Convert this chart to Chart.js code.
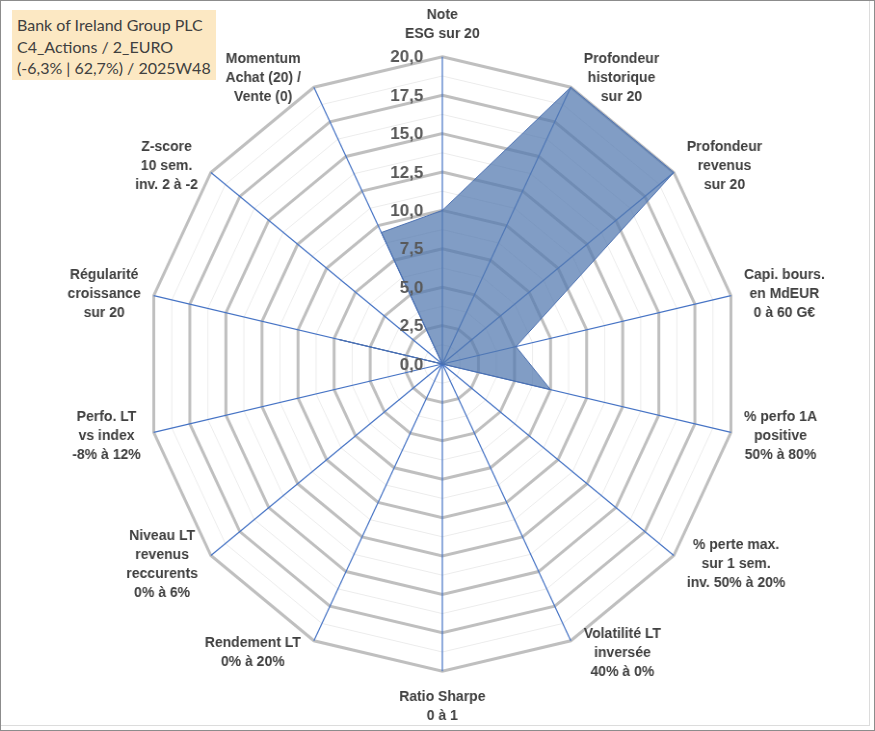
<!DOCTYPE html>
<html>
<head>
<meta charset="utf-8">
<title>Bank of Ireland Group PLC</title>
<script src="https://cdn.jsdelivr.net/npm/chart.js@4.4.1/dist/chart.umd.min.js"></script>
<style>
  html, body { margin: 0; padding: 0; background: #fff; }
  #frame { position: relative; width: 873px; height: 729px; border: 1px solid #8c8c8c; overflow: hidden; }
  #inner { position: absolute; left: 0; top: 0; width: 868px; height: 724px;
           border-right: 1px solid #dcdcdc; border-bottom: 1px solid #dcdcdc; }
  /* the original plot is a little narrower than tall: squeeze it horizontally */
  #chart { position: absolute; left: 0; top: 0; width: 906px; height: 729px;
           transform: scaleX(0.9636); transform-origin: 0 0; }
  #title { position: absolute; left: 11px; top: 9px; width: 194px; height: 62px;
           padding: 4px 5px; background: #fce8c3; color: #404040;
           font: 16px Lato, "Open Sans", sans-serif; line-height: 21.5px; white-space: nowrap; }
</style>
</head>
<body>
<div id="frame">
  <div id="inner"></div>
  <div id="chart"><canvas id="radar"></canvas></div>
  <div id="title">Bank of Ireland Group PLC<br>C4_Actions / 2_EURO<br>(-6,3% | 62,7%) / 2025W48</div>
</div>
<script>
// axes of the radar, clockwise from the top
var categories = [
  ["Note", "ESG sur 20"],
  ["Profondeur", "historique", "sur 20"],
  ["Profondeur", "revenus", "sur 20"],
  ["Capi. bours.", "en MdEUR", "0 à 60 G€"],
  ["% perfo 1A", "positive", "50% à 80%"],
  ["% perte max.", "sur 1 sem.", "inv. 50% à 20%"],
  ["Volatilité LT", "inversée", "40% à 0%"],
  ["Ratio Sharpe", "0 à 1"],
  ["Rendement LT", "0% à 20%"],
  ["Niveau LT", "revenus", "reccurents", "0% à 6%"],
  ["Perfo. LT", "vs index", "-8% à 12%"],
  ["Régularité", "croissance", "sur 20"],
  ["Z-score", "10 sem.", "inv. 2 à -2"],
  ["Momentum", "Achat (20) /", "Vente (0)"]
];

var scores = [10.0, 20, 20, 5.1, 7.5, 0, 0, 0, 0, 0, 0, 7.2, 0, 9.5];

var tickValues = [0, 2.5, 5, 7.5, 10, 12.5, 15, 17.5, 20];
var tickLabels = ["0,0", "2,5", "5,0", "7,5", "10,0", "12,5", "15,0", "17,5", "20,0"];

var SX = 0.9636;
var LABEL_FONT = 'bold 14px "Liberation Sans", Arial, sans-serif';
var LABEL_LINE = 18.9;

// write text unsqueezed at (x, y) of the squeezed canvas
var putText = function (ctx, t, x, y) {
  ctx.save();
  ctx.translate(x, y);
  ctx.scale(1 / SX, 1);
  ctx.fillText(t, 0, 0);
  ctx.restore();
};

// axis names placed beside the axis ends (Excel style) and scale values left of the axis
var textPlugin = {
  id: "radarText",
  afterDatasetsDraw: function (chart) {
    var r = chart.scales.r;
    var ctx = chart.ctx;
    ctx.save();
    ctx.textBaseline = "middle";

    ctx.font = LABEL_FONT;
    ctx.fillStyle = "#404040";
    ctx.textAlign = "center";
    var n = categories.length;
    for (var i = 0; i < n; i++) {
      var lines = categories[i];
      var w = 0;
      for (var j = 0; j < lines.length; j++) {
        w = Math.max(w, ctx.measureText(lines[j]).width);
      }
      var h = lines.length * LABEL_LINE;
      var a = i * 2 * Math.PI / n;
      var s = Math.sin(a), c = Math.cos(a);
      var end = r.getPointPosition(i, r.drawingArea);
      var cx, cy;
      if (Math.abs(s) < 0.01) {
        cx = end.x;
        cy = end.y - c * (h / 2 + 15);
      } else {
        cx = end.x + (s > 0 ? 1 : -1) * (w / 2 + 13) / SX;
        cy = end.y - c * 12;
      }
      var top = cy - h / 2 + 1.5;
      for (var k = 0; k < lines.length; k++) {
        putText(ctx, lines[k], cx, top + LABEL_LINE * (k + 0.5));
      }
    }

    ctx.font = 'bold 17px "Liberation Sans", Arial, sans-serif';
    ctx.fillStyle = "#595959";
    ctx.textAlign = "right";
    for (var m = 0; m < tickValues.length; m++) {
      var d = r.getDistanceFromCenterForValue(tickValues[m]);
      putText(ctx, tickLabels[m], r.xCenter - 19 / SX, r.yCenter - d + 1);
    }
    ctx.restore();
  }
};

var isMajor = function (v) {
  return Math.abs(v / 2.5 - Math.round(v / 2.5)) < 1e-6;
};

new Chart(document.getElementById("radar"), {
  type: "radar",
  data: {
    labels: categories,
    datasets: [{
      data: scores,
      backgroundColor: "rgba(82,120,176,0.73)",
      borderColor: "#4a6fb0",
      borderWidth: 1,
      pointRadius: 0,
      fill: true
    }]
  },
  options: {
    responsive: true,
    maintainAspectRatio: false,
    animation: false,
    devicePixelRatio: 1,
    layout: { padding: { top: 4, bottom: 6, left: 10, right: 0 } },
    plugins: {
      legend: { display: false },
      tooltip: { enabled: false }
    },
    scales: {
      r: {
        min: 0,
        max: 20,
        ticks: { display: false, stepSize: 1.25 },
        grid: {
          circular: false,
          color: function (c) { return isMajor(c.tick.value) ? "#bfbfbf" : "#ececec"; },
          lineWidth: function (c) { return isMajor(c.tick.value) ? 3 : 1; }
        },
        angleLines: { color: "#4472c4", lineWidth: 1.2 },
        pointLabels: {
          display: true,
          color: "rgba(0,0,0,0)",
          padding: 14,
          font: { family: '"Liberation Sans", Arial, sans-serif', size: 14, weight: "bold", lineHeight: 1.35 }
        }
      }
    }
  },
  plugins: [textPlugin]
});
</script>
</body>
</html>
